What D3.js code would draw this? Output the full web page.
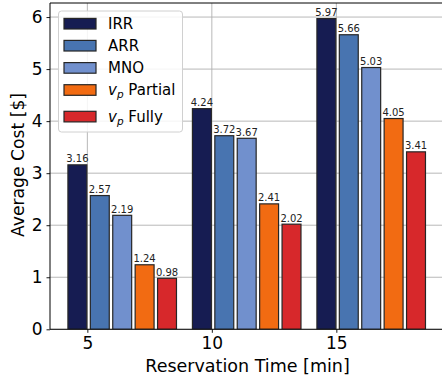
<!DOCTYPE html>
<html>
<head>
<meta charset="utf-8">
<script src="https://cdn.jsdelivr.net/npm/d3@7"></script>
<style>
  body { margin: 0; background: #fff; }
  svg { display: block; font-family: "DejaVu Sans", sans-serif; }
</style>
</head>
<body>
<div id="chart"></div>
<script>
// average cost per reservation time, one bar per method
const times = [5, 10, 15];
const methods = ["IRR", "ARR", "MNO", "vp Partial", "vp Fully"];
const colors = ["#161c52", "#4874b0", "#7190cd", "#f26b12", "#d7282b"];
const irr = [3.16, 4.24, 5.97];
const arr = [2.57, 3.72, 5.66];
const mno = [2.19, 3.67, 5.03];
const vpPartial = [1.24, 2.41, 4.05];
const vpFully = [0.98, 2.02, 3.41];
const yTicks = [0, 1, 2, 3, 4, 5, 6];

const series = [irr, arr, mno, vpPartial, vpFully];

const W = 442, H = 382;
const svg = d3.select("#chart").append("svg")
    .attr("width", W).attr("height", H);

// scales (right side of the axes is cut off by the picture)
const x = d3.scaleLinear().domain([3.5, 19.3]).range([50, 443.4]);
const y = d3.scaleLinear().domain([0, 6.27]).range([329.3, 3]);

const barW = 0.76, step = 0.9, shift = -0.4;

svg.append("defs").append("clipPath").attr("id", "clip")
    .append("rect").attr("x", 50).attr("y", 3).attr("width", 400).attr("height", 326.3);

const plot = svg.append("g").attr("clip-path", "url(#clip)");

// grid
plot.selectAll(".gy").data(yTicks).join("line")
    .attr("x1", 50).attr("x2", W)
    .attr("y1", d => y(d)).attr("y2", d => y(d))
    .attr("stroke", "#b0b0b0").attr("stroke-width", 0.9);
plot.selectAll(".gx").data(times).join("line")
    .attr("x1", d => x(d)).attr("x2", d => x(d))
    .attr("y1", 3).attr("y2", y(0))
    .attr("stroke", "#b0b0b0").attr("stroke-width", 0.9);

// bars
const bars = [];
series.forEach((vals, i) => {
    vals.forEach((v, j) => {
        bars.push({ i, v, c: times[j] + shift + i * step });
    });
});

plot.selectAll(".bar").data(bars).join("rect")
    .attr("x", d => x(d.c - barW / 2))
    .attr("width", d => x(d.c + barW / 2) - x(d.c - barW / 2))
    .attr("y", d => y(d.v))
    .attr("height", d => y(0) - y(d.v))
    .attr("fill", d => colors[d.i])
    .attr("stroke", "#262626").attr("stroke-width", 1.2);

plot.selectAll(".lbl").data(bars).join("text")
    .attr("x", d => x(d.c))
    .attr("y", d => y(d.v) - 2.5)
    .attr("text-anchor", "middle")
    .attr("font-size", 10)
    .attr("fill", "#222")
    .text(d => d.v.toFixed(2));

// axes
const xAxis = svg.append("g")
    .attr("transform", `translate(0,${y(0)})`)
    .call(d3.axisBottom(x).tickValues(times).tickSize(3.5).tickPadding(4));
const yAxis = svg.append("g")
    .attr("transform", "translate(50,0)")
    .call(d3.axisLeft(y).tickValues(yTicks).tickFormat(d3.format("d"))
        .tickSize(3.5).tickPadding(4));

[xAxis, yAxis].forEach(a => {
    a.select(".domain").remove();
    a.selectAll("text").attr("font-size", 17).attr("fill", "#000")
        .attr("font-family", "DejaVu Sans, sans-serif");
    a.selectAll("line").attr("stroke", "#000").attr("stroke-width", 0.9);
});

// spines
svg.append("line").attr("x1", 50).attr("x2", 50).attr("y1", 3).attr("y2", y(0))
    .attr("stroke", "#000").attr("stroke-width", 1);
svg.append("line").attr("x1", 50).attr("x2", W).attr("y1", y(0)).attr("y2", y(0))
    .attr("stroke", "#000").attr("stroke-width", 1);
svg.append("line").attr("x1", 50).attr("x2", W).attr("y1", 3).attr("y2", 3)
    .attr("stroke", "#000").attr("stroke-width", 1);

// axis titles
svg.append("text")
    .attr("x", 247.5).attr("y", 371.7)
    .attr("text-anchor", "middle").attr("font-size", 17.5)
    .text("Reservation Time [min]");
svg.append("text")
    .attr("transform", "translate(23.5,165) rotate(-90)")
    .attr("text-anchor", "middle").attr("font-size", 17.2)
    .text("Average Cost [$]");

// legend
const lg = svg.append("g");
lg.append("rect")
    .attr("x", 58.5).attr("y", 11).attr("width", 124).attr("height", 121)
    .attr("rx", 3).attr("fill", "#fff").attr("fill-opacity", 0.85)
    .attr("stroke", "#d0d0d0").attr("stroke-width", 1);

const rowY = [23.7, 45.7, 67.9, 90, 116.6];
methods.forEach((m, i) => {
    lg.append("rect")
        .attr("x", 64).attr("y", rowY[i] - 5.3).attr("width", 32).attr("height", 10.6)
        .attr("fill", colors[i]).attr("stroke", "#262626").attr("stroke-width", 1.2);
    const t = lg.append("text")
        .attr("x", 108).attr("y", rowY[i] + 5.3)
        .attr("font-size", 15).attr("fill", "#000");
    if (m.startsWith("vp")) {
        t.append("tspan").attr("font-style", "italic").text("v");
        t.append("tspan").attr("font-style", "italic").attr("font-size", 10.5)
            .attr("dy", 3).text("p");
        t.append("tspan").attr("dy", -3).text(" " + m.slice(3));
    } else {
        t.text(m);
    }
});
</script>
</body>
</html>
